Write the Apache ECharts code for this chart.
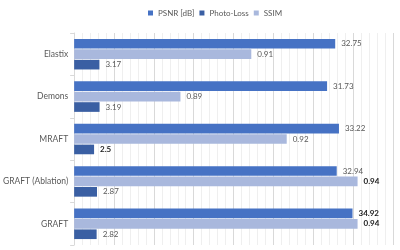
<!DOCTYPE html>
<html>
<head>
<meta charset="utf-8">
<script src="https://cdn.jsdelivr.net/npm/echarts@6/dist/echarts.min.js"></script>
<style>
  html, body { margin: 0; padding: 0; background: #fff; }
  #chart { width: 400px; height: 250px; }
</style>
</head>
<body>
<div id="chart"></div>
<script>
const methods = ['Elastix', 'Demons', 'MRAFT', 'GRAFT (Ablation)', 'GRAFT']
const psnr = [32.75, 31.73, 33.22, 32.94, 34.92]
const photoLoss = [3.17, 3.19, 2.5, 2.87, 2.82]
const ssim = [0.91, 0.89, 0.92, 0.94, 0.94]

const font = 'Lato'
const colors = { psnr: '#4672c4', photo: '#3a5fa3', ssim: '#a9b8dd' }

// best value of each metric gets a bold label
function withLabels(values, best) {
  return values.map(v => ({
    value: v,
    label: v === best
      ? { fontWeight: 'bold', color: '#1a1a1a' }
      : { fontWeight: 'normal', color: '#595959' }
  }))
}

function barSeries(name, values, best, color, axis) {
  return {
    name: name,
    type: 'bar',
    xAxisIndex: axis,
    data: withLabels(values, best),
    itemStyle: { color: color },
    barGap: '8%',
    barCategoryGap: '28%',
    label: {
      show: true,
      position: 'right',
      distance: 6,
      fontFamily: font,
      fontSize: 8
    }
  }
}

const chart = echarts.init(document.getElementById('chart'))
chart.setOption({
  animation: false,
  textStyle: { fontFamily: font },
  legend: {
    top: 4,
    left: 143,
    data: ['PSNR [dB]', 'Photo-Loss', 'SSIM'],
    icon: 'rect',
    itemWidth: 5,
    itemHeight: 5,
    itemGap: 5,
    textStyle: { fontSize: 8, color: '#595959', fontFamily: font }
  },
  grid: { left: 63, right: 7, top: 33, bottom: 5 },
  xAxis: [
    {
      type: 'value',
      min: 0,
      max: 40,
      interval: 5,
      axisLabel: { show: false },
      axisLine: { show: false },
      axisTick: { show: false },
      splitLine: { show: true, lineStyle: { color: '#d9d9d9', width: 1 } },
      minorTick: { show: false, splitNumber: 5 },
      minorSplitLine: { show: true, lineStyle: { color: '#efefef', width: 1 } }
    },
    {
      type: 'value',
      min: 0.86,
      max: 0.95,
      show: false,
      splitLine: { show: false }
    }
  ],
  yAxis: {
    type: 'category',
    data: methods,
    inverse: true,
    axisLine: { show: true, lineStyle: { color: '#d9d9d9' } },
    axisTick: { show: true, length: 4, lineStyle: { color: '#d9d9d9' } },
    axisLabel: { fontSize: 8.5, color: '#595959', fontFamily: font, margin: 6 }
  },
  series: [
    barSeries('PSNR [dB]', psnr, Math.max(...psnr), colors.psnr, 0),
    barSeries('SSIM', ssim, Math.max(...ssim), colors.ssim, 1),
    barSeries('Photo-Loss', photoLoss, Math.min(...photoLoss), colors.photo, 0)
  ]
})
</script>
</body>
</html>
